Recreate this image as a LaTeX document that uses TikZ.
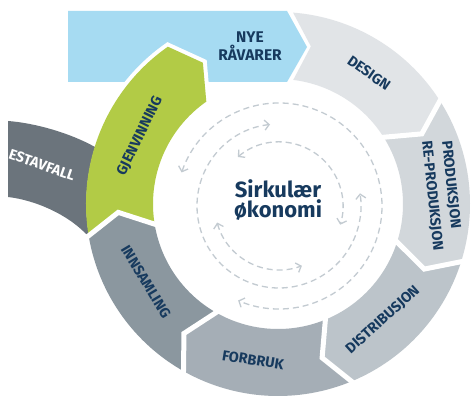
\documentclass[tikz,border=0pt]{standalone}
\usepackage{fontspec}
\setmainfont{Fira Sans}
\usetikzlibrary{arrows.meta}
\definecolor{cDes}{HTML}{E1E4E7}
\definecolor{cPro}{HTML}{D2D7DB}
\definecolor{cDis}{HTML}{BCC4CA}
\definecolor{cFor}{HTML}{A5AEB6}
\definecolor{cInn}{HTML}{8B979F}
\definecolor{cRest}{HTML}{6B747C}
\definecolor{cGreen}{HTML}{B2CB46}
\definecolor{cBlue}{HTML}{A6DBF2}
\definecolor{cText}{HTML}{173A5E}
\definecolor{cDash}{HTML}{C3CBD1}
\newcommand{\Ro}{192}
\newcommand{\Ri}{125}
\newcommand{\Rm}{160}
\newcommand{\ringseg}[3]{\fill[#1] (#2:\Ro) arc[start angle=#2, end angle=#3, radius=\Ro] -- ({#3-7}:\Rm) -- (#3:\Ri) arc[start angle=#3, end angle=#2, radius=\Ri] -- ({#2-7}:\Rm) -- cycle;}
\newcommand{\ringgap}[1]{\draw[white, line width=5pt] (#1:{\Ro+3}) -- ({#1-7}:\Rm) -- (#1:{\Ri-3});}
\begin{document}
\begin{tikzpicture}[x=1pt,y=1pt,
  lab/.style={text=cText, font=\bfseries\fontsize{14.5}{17}\selectfont, inner sep=0pt},
  dasharc/.style={draw=cDash, line width=1.3pt, dash pattern=on 6pt off 4pt},
  barb/.tip={Straight Barb[length=4.5pt,width=10pt,line width=1.3pt]}]
\useasboundingbox (0,0) rectangle (474,-398);
\fill[white] (0,0) rectangle (474,-398);
% NYE RAVARER arrow
\fill[cBlue] (68,-11) -- (287,-11) -- (307,-47) -- (287,-82) -- (68,-82) -- cycle;
% Restavfall band
\fill[cRest] (8,-121) .. controls (35,-123) and (70,-133) .. (95,-147)
  arc[start angle=162.7, end angle=190, radius=192]
  .. controls (70,-215) and (35,-200) .. (8,-197) -- cycle;
\node[white, font=\bfseries\fontsize{14.5}{17}\selectfont, rotate=-19, inner sep=0pt] (rest) at (42,-165) {ESTAVFALL};
\begin{scope}[shift={(278,-204)}]
  % white outline of green against blue
  \draw[white, line width=8pt] (145:\Ro) arc[start angle=145, end angle=125, radius=\Ro] -- (118:\Rm) -- (125:\Ri);
  % design
  \fill[cDes] (85.5:\Ro) arc[start angle=85.5, end angle=33, radius=\Ro] -- (26:\Rm) -- (33:\Ri) arc[start angle=33, end angle=83, radius=\Ri] -- (78.2:161) -- cycle;
  \ringseg{cPro}{33}{-17}
  \ringseg{cDis}{-17}{-67}
  \ringseg{cFor}{-67}{-119}
  \ringseg{cInn}{-119}{-170}
  \ringseg{cGreen}{190}{125}
  \ringgap{33}
  \ringgap{-17}
  \ringgap{-67}
  \ringgap{-119}
  \ringgap{-170}
\end{scope}
% dashed circular arrows
\begin{scope}[shift={(279,-206)}]
  \draw[dasharc, barb-barb] (161:103) arc[start angle=161, end angle=-113.4, radius=103];
  \draw[dasharc, barb-barb] (96.3:82) arc[start angle=96.3, end angle=368.9, radius=82];
  \draw[dasharc, barb-barb] (130:64) arc[start angle=130, end angle=-17, radius=64];
  \draw[dasharc, barb-barb] (195:64) arc[start angle=195, end angle=291, radius=64];
\end{scope}
% labels
\node[lab, align=center, font=\bfseries\fontsize{15.5}{18}\selectfont] (nye) at (250,-46) {NYE\\RÅVARER};
\node[lab, rotate=-35] (design) at (369,-73) {DESIGN};
\node[lab, rotate=-84, anchor=west] (prod) at (446,-141) {PRODUKSJON};
\node[lab, rotate=-84, anchor=west] (reprod) at (426,-141) {RE-PRODUKSJON};
\node[lab, rotate=42] (dist) at (383,-320) {DISTRIBUSJON};
\node[lab, rotate=-9] (forb) at (253,-360) {FORBRUK};
\node[lab, rotate=-59] (inns) at (146,-282) {INNSAMLING};
\node[lab, rotate=64] (gjen) at (140,-136) {GJENVINNING};
\node[text=cText, font=\bfseries\fontsize{22}{19.5}\selectfont, align=center] (title) at (278,-200) {Sirkulær\\økonomi};
\end{tikzpicture}
\end{document}
